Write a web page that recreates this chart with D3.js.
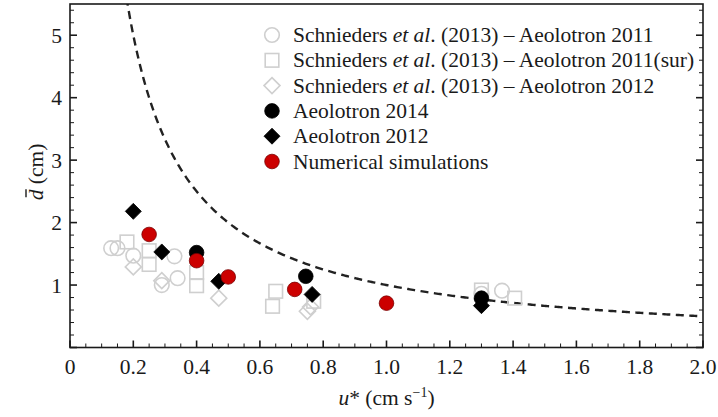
<!DOCTYPE html>
<html>
<head>
<meta charset="utf-8">
<script src="https://cdn.jsdelivr.net/npm/d3@7"></script>
<style>
  html, body { margin: 0; padding: 0; background: #fff; }
  svg { display: block; }
  text { font-family: "Liberation Serif", "Times New Roman", serif; fill: #1a1a1a; }
</style>
</head>
<body>
<svg id="chart" width="718" height="417"></svg>
<script>
// Friction velocity u* (cm/s) and mean diameter d (cm) per data set
const schnieders2011 = [[0.13,1.59],[0.15,1.59],[0.20,1.47],[0.33,1.46],[0.29,1.00],[0.34,1.11],[1.30,0.86],[1.365,0.91]];
const schnieders2011sur = [[0.18,1.69],[0.25,1.55],[0.25,1.33],[0.40,1.20],[0.40,0.99],[0.65,0.90],[0.64,0.66],[0.77,0.74],[1.30,0.92],[1.405,0.79]];
const schnieders2012 = [[0.20,1.29],[0.29,1.07],[0.47,0.79],[0.76,0.65],[0.75,0.58]];
const aeolotron2014 = [[0.40,1.52],[0.745,1.14],[1.30,0.79]];
const aeolotron2012 = [[0.20,2.18],[0.29,1.53],[0.47,1.06],[0.765,0.85],[1.30,0.67]];
const numerical = [[0.25,1.81],[0.40,1.39],[0.50,1.13],[0.71,0.93],[1.00,0.71]];

const xTicks = [0,0.2,0.4,0.6,0.8,1.0,1.2,1.4,1.6,1.8,2.0];
const yTicks = [1,2,3,4,5];
const curveConst = 1.0;   // dashed reference curve: d = C / u*

const legendLabels = [
  ["Schnieders ", "et al", ". (2013) \u2013 Aeolotron 2011"],
  ["Schnieders ", "et al", ". (2013) \u2013 Aeolotron 2011(sur)"],
  ["Schnieders ", "et al", ". (2013) \u2013 Aeolotron 2012"],
  ["Aeolotron 2014"],
  ["Aeolotron 2012"],
  ["Numerical simulations"]
];

const svg = d3.select("#chart");
const L = 70, R = 703, T = 4, B = 347.5;
const x = d3.scaleLinear().domain([0, 2]).range([L, R]);
const y = d3.scaleLinear().domain([0, 5.5]).range([B, T]);

const grey = "#cfcfcf";
const styles = {
  gc: { shape: "circle", fill: "none", stroke: grey, sw: 1.6 },
  gs: { shape: "square", fill: "none", stroke: grey, sw: 1.6 },
  gd: { shape: "diamond", fill: "none", stroke: grey, sw: 1.6 },
  bc: { shape: "circle", fill: "#000", stroke: "#000", sw: 0.8 },
  bd: { shape: "diamond", fill: "#000", stroke: "#000", sw: 0.8 },
  rc: { shape: "circle", fill: "#cc0000", stroke: "#7a0000", sw: 0.8 }
};

function drawMarker(g, cx, cy, st) {
  if (st.shape === "circle") {
    g.append("circle").attr("cx", cx).attr("cy", cy).attr("r", 7.3)
      .attr("fill", st.fill).attr("stroke", st.stroke).attr("stroke-width", st.sw);
  } else if (st.shape === "square") {
    g.append("rect").attr("x", cx - 6.8).attr("y", cy - 6.8).attr("width", 13.6).attr("height", 13.6)
      .attr("fill", st.fill).attr("stroke", st.stroke).attr("stroke-width", st.sw);
  } else {
    const h = 8;
    g.append("path").attr("d", `M${cx},${cy - h}L${cx + h},${cy}L${cx},${cy + h}L${cx - h},${cy}Z`)
      .attr("fill", st.fill).attr("stroke", st.stroke).attr("stroke-width", st.sw);
  }
}

// plot clip
svg.append("clipPath").attr("id", "clip").append("rect")
  .attr("x", L).attr("y", T).attr("width", R - L).attr("height", B - T);

// dashed curve
const us = d3.range(curveConst / 5.6, 2.0001, 0.005);
svg.append("path")
  .attr("clip-path", "url(#clip)")
  .attr("d", d3.line().x(u => x(u)).y(u => y(curveConst / u))(us))
  .attr("fill", "none").attr("stroke", "#222").attr("stroke-width", 2.4)
  .attr("stroke-dasharray", "8,5.5");

// markers
const pts = svg.append("g");
[[schnieders2011, "gc"], [schnieders2011sur, "gs"], [schnieders2012, "gd"],
 [aeolotron2014, "bc"], [aeolotron2012, "bd"], [numerical, "rc"]].forEach(([data, key]) => {
  data.forEach(d => drawMarker(pts, x(d[0]), y(d[1]), styles[key]));
});

// frame
svg.append("rect").attr("x", L).attr("y", T).attr("width", R - L).attr("height", B - T)
  .attr("fill", "none").attr("stroke", "#1a1a1a").attr("stroke-width", 1.6);

// ticks
const ax = svg.append("g").attr("stroke", "#1a1a1a");
d3.range(0, 2.0001, 0.05).forEach(v => {
  const major = Math.abs(v / 0.2 - Math.round(v / 0.2)) < 1e-6;
  ax.append("line").attr("x1", x(v)).attr("x2", x(v)).attr("y1", B).attr("y2", B - (major ? 7 : 4))
    .attr("stroke-width", major ? 1.6 : 1);
});
d3.range(0, 5.5001, 0.2).forEach(v => {
  const major = Math.abs(v - Math.round(v)) < 1e-6;
  const len = major ? 7 : 4;
  ax.append("line").attr("x1", L).attr("x2", L + len).attr("y1", y(v)).attr("y2", y(v))
    .attr("stroke-width", major ? 1.6 : 1);
  ax.append("line").attr("x1", R).attr("x2", R - len).attr("y1", y(v)).attr("y2", y(v))
    .attr("stroke-width", major ? 1.6 : 1);
});

// tick labels
svg.append("g").selectAll("text").data(xTicks).join("text")
  .attr("x", d => x(d)).attr("y", 374).attr("text-anchor", "middle")
  .attr("font-size", 21.5)
  .text(d => d === 0 ? "0" : d3.format(".1f")(d));
svg.append("g").selectAll("text").data(yTicks).join("text")
  .attr("x", 62).attr("y", d => y(d) + 7.5).attr("text-anchor", "end")
  .attr("font-size", 21.5)
  .text(d => d);

// x title
const xt = svg.append("text").attr("x", x(1)).attr("y", 405).attr("text-anchor", "middle").attr("font-size", 21.5);
xt.append("tspan").attr("font-style", "italic").text("u");
xt.append("tspan").text("* (cm s");
xt.append("tspan").attr("font-size", 14).attr("dy", -8).text("\u22121");
xt.append("tspan").attr("dy", 8).text(")");

// y title
const yt = svg.append("g").attr("transform", "translate(43,172) rotate(-90)");
const ytt = yt.append("text").attr("x", 0).attr("y", 0).attr("text-anchor", "middle").attr("font-size", 21.5);
ytt.append("tspan").attr("font-style", "italic").text("d");
ytt.append("tspan").text(" (cm)");
const bb = ytt.node().getBBox();
yt.append("line").attr("x1", bb.x + 3).attr("x2", bb.x + 11).attr("y1", -17).attr("y2", -17)
  .attr("stroke", "#1a1a1a").attr("stroke-width", 1.4);

// legend
const legKeys = ["gc", "gs", "gd", "bc", "bd", "rc"];
const leg = svg.append("g");
legendLabels.forEach((parts, i) => {
  const cy = 35 + i * 25.3;
  drawMarker(leg, 272, cy, styles[legKeys[i]]);
  const t = leg.append("text").attr("x", 293).attr("y", cy + 7).attr("font-size", 21.5);
  parts.forEach((p, j) => {
    const s = t.append("tspan").text(p);
    if (j === 1) s.attr("font-style", "italic");
  });
});
</script>
</body>
</html>
